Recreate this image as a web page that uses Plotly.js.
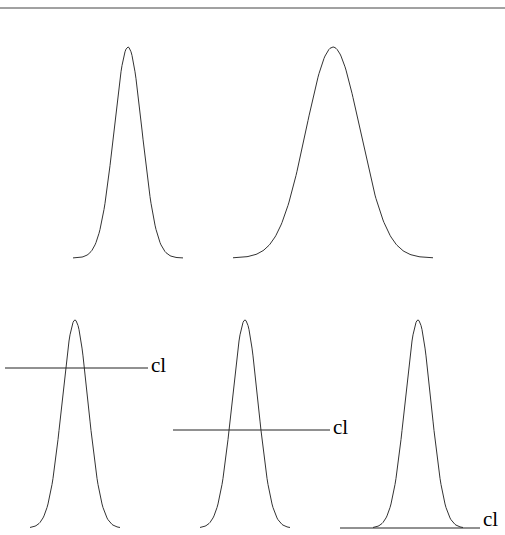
<!DOCTYPE html>
<html><head><script src="https://cdn.plot.ly/plotly-3.0.1.min.js"></script></head>
<body style="margin:0">
<div id="c" style="width:505px;height:535px"></div>
<script>
const centers=[128,333,75,245,418];
const sigmas=[14,27,13,13,13];
const peaks=[47,47,320,320,320];
const bases=[258,258,528,528,528];
const halfSpan=[55,100,45,45,45];
const clY=[368,430,528];
const clX0=[5,173,340];
const clX1=[148,330,480];
const clLabels=['cl','cl','cl'];
const traces=[];
centers.forEach((c,i)=>{
  const xs=[],ys=[];
  for(let x=c-halfSpan[i];x<=c+halfSpan[i];x+=1){
    xs.push(x);
    ys.push(bases[i]-(bases[i]-peaks[i])*Math.exp(-((x-c)**2)/(2*sigmas[i]**2)));
  }
  traces.push({x:xs,y:ys,mode:'lines',line:{color:'#333',width:1},hoverinfo:'skip'});
});
clY.forEach((y,i)=>traces.push({x:[clX0[i],clX1[i]],y:[y,y],mode:'lines',line:{color:'#222',width:1}}));
traces.push({x:[0,505],y:[8,8],mode:'lines',line:{color:'#444',width:1}});
const ann=clY.map((y,i)=>({x:clX1[i]+1,y:y-(i===2?9:3),text:clLabels[i],showarrow:false,xanchor:'left',yanchor:'middle',font:{family:'Liberation Serif',size:21,color:'#000'}}));
Plotly.newPlot('c',traces,{width:505,height:535,margin:{l:0,r:0,t:0,b:0},showlegend:false,
 xaxis:{range:[0,505],visible:false},yaxis:{range:[535,0],visible:false},
 paper_bgcolor:'#fff',plot_bgcolor:'#fff',annotations:ann},{staticPlot:true});
</script></body></html>
